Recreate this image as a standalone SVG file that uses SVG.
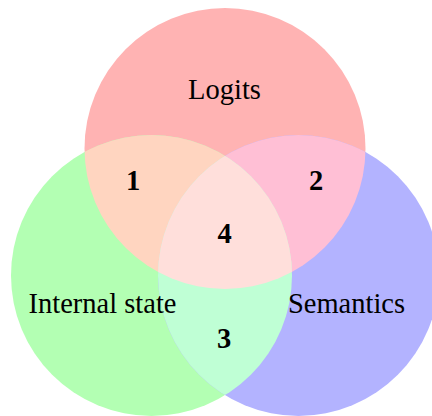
<svg xmlns="http://www.w3.org/2000/svg" width="432" height="416" viewBox="0 0 432 416">
<style>
.lbl{font-family:"Liberation Serif","Times New Roman",serif;font-size:28.5px;fill:#000;text-anchor:middle}
.num{font-family:"Liberation Serif","Times New Roman",serif;font-size:28.5px;font-weight:bold;fill:#000;text-anchor:middle}
</style>
<defs>
<clipPath id="cR"><circle cx="225" cy="148.5" r="140.5"/></clipPath>
<clipPath id="cG"><circle cx="151.5" cy="275.5" r="140.5"/></clipPath>
</defs>
<rect width="432" height="416" fill="#fff"/>
<g id="logits"><circle cx="225" cy="148.5" r="140.5" fill="#ffb3b3"/></g>
<g id="internal-state"><circle cx="151.5" cy="275.5" r="140.5" fill="#b3ffb3"/></g>
<g id="semantics"><circle cx="298.5" cy="275.5" r="140.5" fill="#b3b3ff"/></g>
<g id="overlaps">
<circle cx="151.5" cy="275.5" r="140.5" fill="#ffd5c0" clip-path="url(#cR)"/>
<circle cx="298.5" cy="275.5" r="140.5" fill="#ffbfd5" clip-path="url(#cR)"/>
<circle cx="298.5" cy="275.5" r="140.5" fill="#bfffd5" clip-path="url(#cG)"/>
<g clip-path="url(#cR)"><circle cx="298.5" cy="275.5" r="140.5" fill="#ffdfdb" clip-path="url(#cG)"/></g>
</g>
<g id="labels">
<text class="lbl" x="224.5" y="99">Logits</text>
<text class="lbl" x="102.5" y="312.5">Internal state</text>
<text class="lbl" x="346.5" y="312.5">Semantics</text>
<text class="num" x="133" y="190">1</text>
<text class="num" x="316" y="190">2</text>
<text class="num" x="224" y="348">3</text>
<text class="num" x="224.5" y="242.5">4</text>
</g>
</svg>
